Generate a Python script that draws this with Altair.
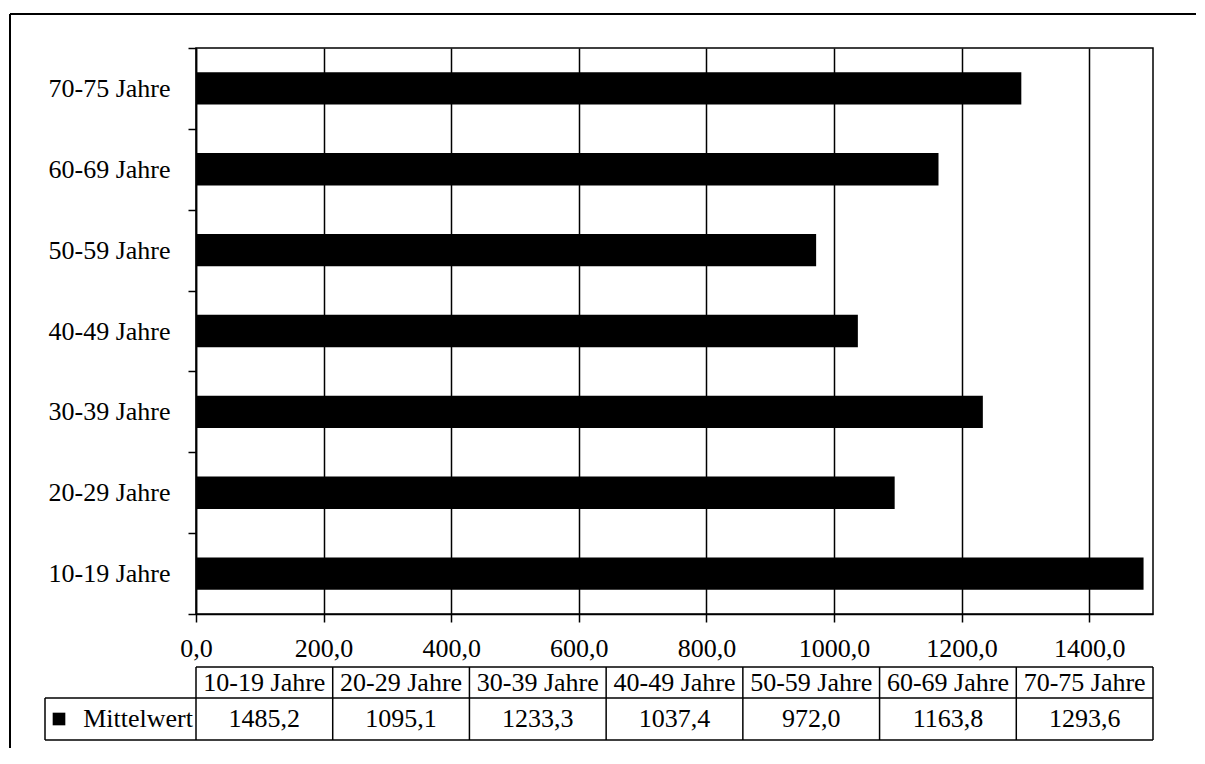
import altair as alt
import pandas as pd

# ---- data ----
categories = ["10-19 Jahre", "20-29 Jahre", "30-39 Jahre", "40-49 Jahre",
              "50-59 Jahre", "60-69 Jahre", "70-75 Jahre"]
values = [1485.2, 1095.1, 1233.3, 1037.4, 972.0, 1163.8, 1293.6]
value_labels = ["1485,2", "1095,1", "1233,3", "1037,4", "972,0", "1163,8", "1293,6"]
series_name = "Mittelwert"
x_ticks = [0, 200, 400, 600, 800, 1000, 1200, 1400]

# ---- layout ----
FONT = "Liberation Serif"
FS = 26
W, H = 957, 566
LEGEND_W = 151                      # width of the legend cell left of the table
COL_W = W / len(categories)
legend_left = -LEGEND_W / COL_W     # in column units
square_x = (-LEGEND_W + 14) / COL_W

df = pd.DataFrame({
    "Altersgruppe": categories,
    "Wert": values,
    "Label": value_labels,
    "col": list(range(len(categories))),
})
df["mid"] = df["col"] + 0.5

# bars
bars = alt.Chart(df).mark_bar(color="black", height={"band": 0.4}).encode(
    x=alt.X("Wert:Q",
            scale=alt.Scale(domain=[0, 1500], nice=False, zero=True),
            axis=alt.Axis(values=x_ticks,
                          labelExpr="replace(format(datum.value, '.1f'), '.', ',')",
                          grid=True, gridColor="black", gridWidth=1.5, gridOpacity=1,
                          domainColor="black", domainWidth=1.5,
                          tickColor="black", tickSize=8, tickWidth=1.5,
                          labelFont=FONT, labelFontSize=FS, labelColor="black",
                          labelPadding=13, labelFlush=False, title=None)),
    y=alt.Y("Altersgruppe:N", sort=categories[::-1],
            scale=alt.Scale(paddingInner=0, paddingOuter=0),
            axis=alt.Axis(tickBand="extent", grid=False,
                          domainColor="black", domainWidth=1.5,
                          tickColor="black", tickSize=8, tickWidth=1.5,
                          labelFont=FONT, labelFontSize=FS, labelColor="black",
                          labelPadding=18, title=None)),
)

# table scales (column units / row units)
tx = alt.Scale(domain=[0, len(categories)], range=[0, W], nice=False, zero=False)
ty = alt.Scale(domain=[0, 1, 2], range=[619, 650, 692], nice=False, zero=False)

# horizontal table lines
hlines = pd.DataFrame({"x": [0, legend_left, legend_left], "x2": [len(categories)] * 3,
                       "y": [0, 1, 2]})
hrule = alt.Chart(hlines).mark_rule(color="black", strokeWidth=1.5).encode(
    x=alt.X("x:Q", scale=tx, axis=None), x2="x2:Q",
    y=alt.Y("y:Q", scale=ty, axis=None))

# vertical table lines
vlines = pd.DataFrame({"x": list(range(len(categories) + 1)) + [legend_left],
                       "y": [0] * (len(categories) + 1) + [1],
                       "y2": [2] * (len(categories) + 2)})
vrule = alt.Chart(vlines).mark_rule(color="black", strokeWidth=1.5).encode(
    x=alt.X("x:Q", scale=tx, axis=None),
    y=alt.Y("y:Q", scale=ty, axis=None), y2="y2:Q")

header = alt.Chart(df).mark_text(font=FONT, fontSize=FS, color="black",
                                 baseline="middle", align="center").encode(
    x=alt.X("mid:Q", scale=tx, axis=None),
    y=alt.Y("hy:Q", scale=ty, axis=None),
    text="Altersgruppe:N").transform_calculate(hy="0.5")

vals = alt.Chart(df).mark_text(font=FONT, fontSize=FS, color="black",
                               baseline="middle", align="center").encode(
    x=alt.X("mid:Q", scale=tx, axis=None),
    y=alt.Y("vy:Q", scale=ty, axis=None),
    text="Label:N").transform_calculate(vy="1.5")

leg_df = pd.DataFrame({"name": [series_name], "x": [0], "sx": [square_x], "y": [1.5]})
leg_text = alt.Chart(leg_df).mark_text(font=FONT, fontSize=FS, color="black",
                                       baseline="middle", align="right", dx=-3).encode(
    x=alt.X("x:Q", scale=tx, axis=None),
    y=alt.Y("y:Q", scale=ty, axis=None),
    text="name:N")
leg_sq = alt.Chart(leg_df).mark_point(shape="square", filled=True, color="black",
                                      size=160, opacity=1).encode(
    x=alt.X("sx:Q", scale=tx, axis=None),
    y=alt.Y("y:Q", scale=ty, axis=None))

# outer frame (top and left)
frame_df = pd.DataFrame({"k": [0]})
frame_top = alt.Chart(frame_df).mark_rule(color="black", strokeWidth=2).encode(
    x=alt.value(-186), x2=alt.value(1000), y=alt.value(-34))
frame_left = alt.Chart(frame_df).mark_rule(color="black", strokeWidth=2).encode(
    x=alt.value(-186), y=alt.value(-34), y2=alt.value(700))

chart = alt.layer(bars, hrule, vrule, header, vals, leg_text, leg_sq,
                  frame_top, frame_left).resolve_scale(
    x="independent", y="independent"
).properties(
    width=W, height=H, background="white",
    padding={"left": 1, "top": 5, "right": 0, "bottom": 0},
).configure_view(stroke="black", strokeWidth=1.5)

chart.save("out.html", embed_options={"renderer": "svg", "actions": False})
